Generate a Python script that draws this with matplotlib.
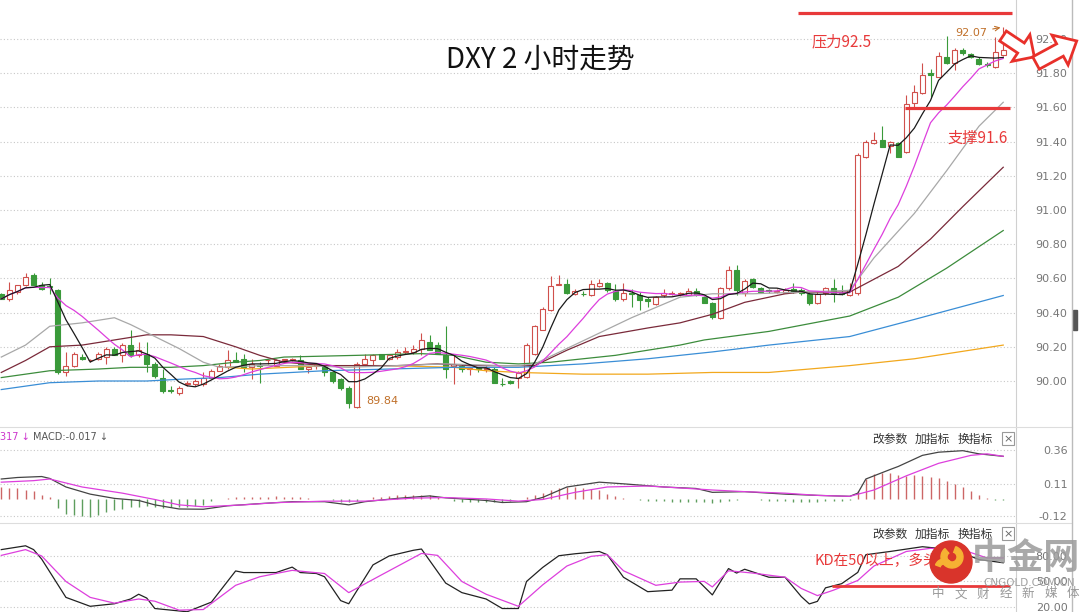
import numpy as np
import pandas as pd
import matplotlib
matplotlib.use("Agg")
import matplotlib.pyplot as plt
from matplotlib.patches import Circle, Wedge, FancyArrow, Rectangle

plt.rcParams['font.family'] = ['DejaVu Sans', 'Noto Sans CJK SC']
CJK = ['Noto Sans CJK SC', 'DejaVu Sans']

W, H = 1086, 612

# ---- 2h candles (one per bar, left to right) ----
opens = [90.51, 90.48, 90.52, 90.56, 90.62, 90.56, 90.555, 90.53, 90.05, 90.09,
         90.14, 90.12, 90.13, 90.14, 90.19, 90.15, 90.21, 90.15, 90.16, 90.10,
         90.02, 89.945, 89.93, 89.98, 89.98, 89.98, 90.02, 90.06, 90.08, 90.12,
         90.13, 90.08, 90.095, 90.12, 90.09, 90.12, 90.125, 90.12, 90.07, 90.085,
         90.08, 90.05, 90.01, 89.96, 89.85, 90.10, 90.12, 90.16, 90.13, 90.14,
         90.17, 90.17, 90.19, 90.23, 90.21, 90.15, 90.09, 90.09, 90.07, 90.075,
         90.07, 90.07, 89.985, 90.00, 90.015, 90.025, 90.16, 90.30, 90.415, 90.563,
         90.57, 90.507, 90.511, 90.503, 90.556, 90.571, 90.528, 90.478, 90.515, 90.503,
         90.478, 90.45, 90.503, 90.511, 90.509, 90.503, 90.528, 90.493, 90.454, 90.366,
         90.542, 90.649, 90.513, 90.595, 90.542, 90.528, 90.522, 90.517, 90.536, 90.535,
         90.509, 90.454, 90.513, 90.542, 90.51, 90.503, 90.513, 91.312, 91.39, 91.409,
         91.374, 91.39, 91.341, 91.624, 91.682, 91.803, 91.78, 91.897, 91.858, 91.936,
         91.91, 91.881, 91.852, 91.834, 91.905]
highs = [90.515, 90.58, 90.56, 90.63, 90.63, 90.58, 90.60, 90.54, 90.17, 90.17,
         90.16, 90.13, 90.17, 90.20, 90.20, 90.22, 90.30, 90.23, 90.23, 90.11,
         90.07, 89.97, 89.97, 90.00, 90.01, 90.05, 90.07, 90.10, 90.18, 90.17,
         90.16, 90.13, 90.11, 90.13, 90.13, 90.13, 90.135, 90.15, 90.08, 90.10,
         90.09, 90.06, 90.02, 89.97, 90.11, 90.16, 90.16, 90.16, 90.16, 90.19,
         90.20, 90.21, 90.28, 90.27, 90.23, 90.32, 90.15, 90.10, 90.08, 90.08,
         90.09, 90.08, 90.015, 90.006, 90.06, 90.22, 90.33, 90.435, 90.615, 90.62,
         90.595, 90.536, 90.528, 90.59, 90.595, 90.581, 90.567, 90.571, 90.536, 90.522,
         90.493, 90.497, 90.536, 90.528, 90.522, 90.542, 90.542, 90.497, 90.464, 90.552,
         90.673, 90.678, 90.595, 90.60, 90.552, 90.536, 90.536, 90.542, 90.571, 90.545,
         90.522, 90.522, 90.552, 90.595, 90.561, 90.571, 91.331, 91.409, 91.458, 91.491,
         91.405, 91.40, 91.673, 91.731, 91.858, 91.823, 91.926, 92.018, 91.945, 91.945,
         91.92, 91.893, 91.867, 92.014, 92.07]
lows = [90.48, 90.47, 90.51, 90.555, 90.56, 90.53, 90.51, 90.04, 90.03, 90.08,
        90.12, 90.11, 90.12, 90.10, 90.15, 90.11, 90.14, 90.14, 90.05, 90.02,
        89.93, 89.93, 89.92, 89.97, 89.97, 89.97, 90.01, 90.06, 90.07, 90.11,
        90.05, 90.01, 89.99, 90.10, 90.09, 90.11, 90.115, 90.07, 90.045, 90.07,
        90.03, 89.99, 89.95, 89.845, 89.84, 90.09, 90.09, 90.13, 90.12, 90.13,
        90.16, 90.16, 90.15, 90.18, 90.155, 90.02, 89.98, 90.05, 90.035, 90.05,
        90.055, 89.99, 89.97, 89.98, 89.96, 90.02, 90.15, 90.30, 90.41, 90.56,
        90.51, 90.50, 90.497, 90.497, 90.552, 90.522, 90.47, 90.47, 90.435, 90.415,
        90.435, 90.444, 90.493, 90.503, 90.497, 90.497, 90.497, 90.454, 90.361, 90.361,
        90.532, 90.503, 90.497, 90.542, 90.517, 90.517, 90.513, 90.513, 90.517, 90.50,
        90.444, 90.45, 90.503, 90.464, 90.503, 90.497, 90.503, 91.302, 91.386, 91.366,
        91.331, 91.308, 91.335, 91.60, 91.678, 91.663, 91.776, 91.854, 91.819, 91.906,
        91.887, 91.848, 91.838, 91.828, 91.90]
closes = [90.48, 90.53, 90.56, 90.61, 90.56, 90.54, 90.55, 90.05, 90.09, 90.16,
          90.13, 90.125, 90.16, 90.19, 90.15, 90.21, 90.15, 90.18, 90.10, 90.03,
          89.94, 89.94, 89.96, 89.99, 90.00, 90.02, 90.06, 90.09, 90.12, 90.11,
          90.08, 90.10, 90.09, 90.125, 90.12, 90.13, 90.13, 90.07, 90.08, 90.10,
          90.05, 90.00, 89.96, 89.87, 90.10, 90.13, 90.15, 90.13, 90.15, 90.17,
          90.175, 90.19, 90.24, 90.18, 90.16, 90.07, 90.10, 90.07, 90.075, 90.07,
          90.07, 89.99, 89.98, 89.99, 90.045, 90.21, 90.32, 90.42, 90.555, 90.57,
          90.513, 90.528, 90.507, 90.567, 90.571, 90.532, 90.478, 90.513, 90.511, 90.474,
          90.47, 90.489, 90.513, 90.515, 90.517, 90.528, 90.503, 90.458, 90.376, 90.542,
          90.649, 90.532, 90.587, 90.552, 90.522, 90.526, 90.528, 90.532, 90.522, 90.515,
          90.454, 90.509, 90.542, 90.513, 90.509, 90.532, 91.322, 91.40, 91.409, 91.37,
          91.40, 91.312, 91.62, 91.692, 91.789, 91.789, 91.901, 91.858, 91.936, 91.916,
          91.897, 91.854, 91.848, 91.926, 91.935]

# ---- longer moving averages at these bars ----
ma20_idx = [0, 3, 6, 10, 14, 16, 19, 22, 25, 27, 32, 37, 43, 49, 55, 62, 64, 66, 70, 74,
            78, 82, 84, 88, 93, 99, 105, 108, 113, 117, 121, 124]
ma20_val = [90.14, 90.21, 90.32, 90.34, 90.37, 90.33, 90.26, 90.19, 90.11, 90.08,
            90.09, 90.09, 90.08, 90.09, 90.10, 90.09, 90.09, 90.10, 90.19, 90.28,
            90.37, 90.45, 90.49, 90.51, 90.51, 90.52, 90.53, 90.72, 90.98, 91.23,
            91.49, 91.63]
ma30_idx = [0, 3, 6, 10, 14, 18, 21, 25, 29, 32, 35, 40, 49, 54, 58, 64, 66, 70, 74, 80,
            84, 88, 92, 97, 99, 105, 111, 115, 119, 124]
ma30_val = [90.05, 90.12, 90.20, 90.21, 90.24, 90.27, 90.27, 90.26, 90.20, 90.15,
            90.11, 90.09, 90.09, 90.10, 90.09, 90.09, 90.09, 90.18, 90.26, 90.31,
            90.34, 90.39, 90.46, 90.51, 90.52, 90.52, 90.67, 90.83, 91.02, 91.25]
ma60_idx = [0, 3, 6, 12, 16, 21, 25, 29, 32, 35, 44, 52, 56, 60, 64, 68, 76, 84, 87, 95,
            105, 111, 117, 124]
ma60_val = [90.02, 90.04, 90.06, 90.07, 90.08, 90.08, 90.09, 90.11, 90.12, 90.14,
            90.15, 90.16, 90.15, 90.11, 90.10, 90.11, 90.15, 90.21, 90.24, 90.29,
            90.38, 90.49, 90.66, 90.88]
ma120_idx = [0, 3, 6, 12, 18, 22, 27, 32, 40, 48, 56, 64, 72, 80, 88, 95, 105, 113, 124]
ma120_val = [89.95, 89.97, 89.99, 90.00, 90.00, 90.01, 90.02, 90.04, 90.06, 90.07,
             90.08, 90.08, 90.10, 90.13, 90.17, 90.21, 90.26, 90.36, 90.50]
ma250_idx = [28, 31, 40, 48, 56, 60, 64, 72, 80, 88, 95, 105, 113, 124]
ma250_val = [90.08, 90.07, 90.09, 90.09, 90.08, 90.06, 90.05, 90.04, 90.04, 90.05,
             90.05, 90.09, 90.13, 90.21]

# ---- MACD ----
macd_hist = [0.09, 0.085, 0.08, 0.07, 0.06, 0.035, 0.015,
             -0.06, -0.105, -0.115, -0.122, -0.126, -0.115, -0.091, -0.08, -0.069, -0.058,
             -0.052, -0.046, -0.058, -0.062, -0.058, -0.058, -0.052, -0.046, -0.040, -0.012,
             0.003,
             0.01, 0.015, 0.015, 0.02, 0.02, 0.02, 0.025, 0.02, 0.02, 0.015, 0.01, 0.005,
             0.003, -0.005, -0.015, -0.02, -0.01, 0.005,
             0.015, 0.02, 0.025, 0.03, 0.03, 0.035, 0.035, 0.03, 0.02, 0.005,
             -0.01, -0.015, -0.02, -0.02, -0.02, -0.015, -0.015, -0.01,
             0.005, 0.02, 0.035, 0.05,
             0.066, 0.082, 0.089, 0.089, 0.082, 0.078, 0.066, 0.042, 0.026, 0.012, 0.005,
             -0.005, -0.01, -0.01, -0.01, -0.015, -0.015, -0.015, -0.02, -0.02, -0.025,
             -0.02, -0.01, -0.005, 0.003, 0.003, -0.005, -0.01, -0.01, -0.01, -0.015,
             -0.015, -0.015, -0.015, -0.01, -0.01, -0.01, -0.005,
             0.06, 0.149, 0.183, 0.195, 0.19, 0.176, 0.172, 0.176, 0.172, 0.16,
             0.153, 0.137, 0.114, 0.091, 0.061, 0.034, 0.01, -0.005, -0.005]
dif_idx = [0, 2, 5, 6, 8, 11, 14, 17, 19, 22, 25, 28, 32, 36, 40, 43, 45, 49, 53, 55,
           60, 62, 65, 67, 70, 74, 77, 82, 86, 88, 92, 97, 101, 105, 106, 107, 110, 111,
           114, 116, 119, 121, 124]
dif_val = [0.149, 0.160, 0.167, 0.153, 0.091, 0.039, 0.008, -0.007, -0.039, -0.069,
           -0.071, -0.046, -0.030, -0.016, -0.016, -0.039, -0.016, 0.008, 0.026, 0.012,
           -0.007, -0.022, -0.016, 0.015, 0.091, 0.126, 0.114, 0.091, 0.080, 0.052,
           0.057, 0.039, 0.030, 0.023, 0.046, 0.149, 0.218, 0.240, 0.321, 0.344,
           0.355, 0.332, 0.314]
dea_idx = [0, 4, 6, 10, 15, 19, 22, 25, 30, 34, 40, 45, 51, 55, 60, 64, 67, 71, 75, 80,
           84, 88, 92, 97, 101, 105, 108, 112, 116, 120, 122, 124]
dea_val = [0.126, 0.137, 0.149, 0.091, 0.046, 0.0, -0.039, -0.053, -0.039, -0.023,
           -0.012, -0.012, 0.010, 0.014, 0.004, -0.012, 0.0, 0.052, 0.091, 0.098,
           0.084, 0.069, 0.057, 0.046, 0.030, 0.023, 0.069, 0.172, 0.263, 0.321,
           0.332, 0.314]

# ---- KD ----
k_idx = [0, 3, 4, 5, 8, 11, 14, 16, 17, 18, 19, 23, 26, 29, 30, 34, 36, 37, 39, 40,
         42, 43, 46, 48, 51, 52, 55, 57, 60, 62, 64, 65, 67, 69, 71, 74, 75, 77, 80, 83,
         84, 86, 88, 90, 91, 92, 95, 97, 99, 100, 101, 102, 104, 106, 107, 110, 114, 118,
         121, 124]
k_val = [87.5, 92.0, 87.5, 76.3, 31.3, 20.8, 23.8, 29.4, 35.0, 30.5,
         18.2, 14.4, 25.7, 62.4, 60.5, 60.5, 66.9, 60.5, 59.4, 55.6,
         27.5, 23.8, 69.5, 80.0, 86.7, 88.2, 48.1, 36.9, 29.4, 18.2,
         18.2, 50.0, 66.5, 80.3, 82.6, 85.3, 81.5, 55.0, 38.0, 39.8,
         53.1, 53.1, 34.2, 65.2, 59.9, 64.4, 55.0, 55.0, 32.3, 23.6,
         26.6, 42.5, 47.4, 60.7, 81.5, 85.3, 90.9, 87.1, 75.8, 72.0]
d_idx = [0, 3, 5, 8, 11, 14, 17, 19, 22, 25, 29, 32, 36, 40, 43, 47, 52, 54, 57, 60,
         64, 67, 70, 73, 75, 77, 81, 84, 87, 88, 90, 93, 97, 99, 101, 103, 106, 108, 112,
         115, 119, 122, 124]
d_val = [80.7, 87.5, 80.0, 50.0, 31.3, 24.5, 29.4, 26.8, 16.3, 17.0,
         45.5, 55.6, 63.1, 59.4, 36.9, 57.5, 83.0, 80.7, 50.0, 35.0,
         20.8, 46.0, 68.2, 79.6, 81.5, 62.6, 45.5, 49.3, 50.1, 43.6,
         62.6, 59.9, 55.0, 41.8, 33.4, 39.8, 51.2, 68.2, 85.3, 89.0,
         87.1, 77.7, 77.7]

price_ticks = [90.00, 90.20, 90.40, 90.60, 90.80, 91.00, 91.20, 91.40, 91.60, 91.80, 92.00]
macd_ticks = [0.36, 0.11, -0.12]
kd_ticks = [80.00, 50.00, 20.00]

RED = '#d0504c'
GREEN = '#3a9a3a'
ANNO = '#e8393a'
MAG = '#dd3fdd'

fig = plt.figure(figsize=(W / 100, H / 100), dpi=100)
fig.patch.set_facecolor('white')


def panel(top, bottom):
    a = fig.add_axes([0, 1 - bottom / H, 1016 / W, (bottom - top) / H])
    a.set_xlim(-0.16, 125.58)
    a.set_xticks([])
    for s in ('top', 'left', 'bottom'):
        a.spines[s].set_visible(False)
    a.spines['right'].set_color('#d0d0d0')
    a.yaxis.tick_right()
    a.tick_params(axis='y', length=0, pad=37, labelsize=8, labelcolor='#777777')
    a.grid(axis='y', linestyle=(0, (1, 2)), color='#c8c8c8', lw=0.8)
    return a


ax = panel(0, 427)
ax_macd = panel(428, 523)
ax_kd = panel(523, 612)

# main price panel
idx = np.arange(len(closes))
o, h, l, c = (np.array(v) for v in (opens, highs, lows, closes))
up = c >= o
ax.vlines(idx, l, h, colors=np.where(up, RED, GREEN), lw=0.8, zorder=2)
lo = np.minimum(o, c)
bh = np.maximum(np.abs(c - o), 0.004)
ax.bar(idx[up], bh[up], bottom=lo[up], width=0.62, facecolor='white',
       edgecolor=RED, lw=0.8, zorder=3)
ax.bar(idx[~up], bh[~up], bottom=lo[~up], width=0.62, color=GREEN,
       edgecolor=GREEN, lw=0.8, zorder=3)

cs = pd.Series(closes)
ma5 = cs.rolling(5, min_periods=1).mean()
ma10 = cs.rolling(10, min_periods=1).mean()
ax.plot(ma250_idx, ma250_val, color='#f2a81d', lw=0.9, zorder=4)
ax.plot(ma120_idx, ma120_val, color='#3a8ed6', lw=0.9, zorder=4)
ax.plot(ma60_idx, ma60_val, color='#3c8c3c', lw=0.9, zorder=4)
ax.plot(ma30_idx, ma30_val, color='#7a2a3a', lw=0.9, zorder=4)
ax.plot(ma20_idx, ma20_val, color='#a8a8a8', lw=0.9, zorder=4)
ax.plot(idx, ma10, color=MAG, lw=0.9, zorder=5)
ax.plot(idx, ma5, color='#1a1a1a', lw=0.9, zorder=5)

ax.set_ylim(89.731, 92.228)
ax.set_yticks(price_ticks, labels=[f"{v:.2f}" for v in price_ticks])

lo_i = int(np.argmin(l))
hi_i = int(np.argmax(h))
ax.annotate(f"{l[lo_i]:.2f}", xy=(lo_i, l[lo_i]), xytext=(9, 7), textcoords='offset pixels',
            ha='left', va='center', fontsize=8, color='#c0702a',
            arrowprops=dict(arrowstyle='-', color='#c0702a', lw=0.8))
ax.annotate(f"{h[hi_i]:.2f}", xy=(hi_i, h[hi_i]), xytext=(-16, -6), textcoords='offset pixels',
            ha='right', va='center', fontsize=8, color='#c0702a',
            arrowprops=dict(arrowstyle='->', color='#c0702a', lw=0.8))

# MACD panel
hist = np.array(macd_hist)
ax_macd.vlines(idx, 0, hist, colors=np.where(hist >= 0, '#cc6666', '#5e9e5e'), lw=1.0)
ax_macd.plot(dif_idx, dif_val, color='#444444', lw=0.9)
ax_macd.plot(dea_idx, dea_val, color=MAG, lw=0.9)
ax_macd.set_ylim(-0.171, 0.52)
ax_macd.set_yticks(macd_ticks, labels=[f"{v:.2f}" for v in macd_ticks])

# KD panel
ax_kd.plot(k_idx, k_val, color='#222222', lw=0.9)
ax_kd.plot(d_idx, d_val, color=MAG, lw=0.9)
ax_kd.set_ylim(14.1, 118.8)
ax_kd.set_yticks(kd_ticks, labels=[f"{v:.2f}" for v in kd_ticks])

for a in (ax, ax_macd, ax_kd):
    plt.setp(a.get_yticklabels(), ha='right')

# overlay in pixel coordinates for the hand-drawn notes
ov = fig.add_axes([0, 0, 1, 1], zorder=10)
ov.set_xlim(0, W)
ov.set_ylim(H, 0)
ov.axis('off')
ov.patch.set_alpha(0)

ov.plot([0, 1072], [427, 427], color='#dddddd', lw=0.8)
ov.plot([0, 1072], [522.5, 522.5], color='#dddddd', lw=0.8)
ov.plot([1072, 1072], [0, H], color='#bbbbbb', lw=1.0)
ov.add_patch(Rectangle((1073, 310), 4, 20, color='#555555'))

ov.text(540, 60, "DXY 2 小时走势", ha='center', va='center', fontsize=20,
        family=CJK, color='#111111')

ov.plot([798, 1012], [13, 13], color=ANNO, lw=2.3, solid_capstyle='butt')
ov.text(812, 42, "压力92.5", ha='left', va='center', fontsize=11, family=CJK, color=ANNO)
ov.plot([905, 1010], [108, 108], color=ANNO, lw=2.3, solid_capstyle='butt')
ov.text(948, 138, "支撑91.6", ha='left', va='center', fontsize=11, family=CJK, color=ANNO)

ov.add_patch(FancyArrow(1003, 36, 18, 12, width=12, head_width=32, head_length=16,
                        fc='white', ec='#e8302a', lw=2, zorder=12))
ov.add_patch(FancyArrow(1036, 63, 24, -13, width=14, head_width=34, head_length=19,
                        fc='white', ec='#e8302a', lw=2, zorder=12))

# indicator headers
ov.text(0, 437, "317 ↓", ha='left', va='center', fontsize=7, color='#cc33cc')
ov.text(33, 437, "MACD:-0.017 ↓", ha='left', va='center', fontsize=7, color='#555555')
for yy in (439, 534):
    for xx, s in ((872, "改参数"), (915, "加指标"), (958, "换指标")):
        ov.text(xx, yy, s, ha='left', va='center', fontsize=8.5, family=CJK, color='#333333')
    ov.add_patch(Rectangle((1002, yy - 7), 12, 13, fill=False, ec='#999999', lw=0.8))
    ov.text(1008, yy, "×", ha='center', va='center', fontsize=8, color='#666666')

# KD note
ov.text(815, 561, "KD在50以上，多头", ha='left', va='center', fontsize=10.5,
        family=CJK, color=ANNO)
ov.plot([832, 1010], [586, 586], color=ANNO, lw=2.0, solid_capstyle='butt')

# watermark
ov.add_patch(Circle((951, 562), 21, color='#d9342b', zorder=13))
ov.add_patch(Wedge((952, 557), 11, -70, 230, width=6, color='#f6b233', zorder=14))
ov.add_patch(Wedge((944, 568), 9, 200, 330, width=5, color='#f6b233', zorder=14))
ov.text(1026, 558, "中金网", ha='center', va='center', fontsize=26, fontweight='bold',
        family=CJK, color='#9a9a9a', alpha=0.85, zorder=13)
ov.text(1029, 583, "CNGOLD.COM.CN", ha='center', va='center', fontsize=7.5,
        color='#a0a0a0', zorder=13)
for k, ch in enumerate("中文财经新媒体"):
    ov.text(938 + k * 22.5, 594, ch, ha='center', va='center', fontsize=9,
            family=CJK, color='#999999', zorder=13)

fig.savefig('out.png', dpi=100)
